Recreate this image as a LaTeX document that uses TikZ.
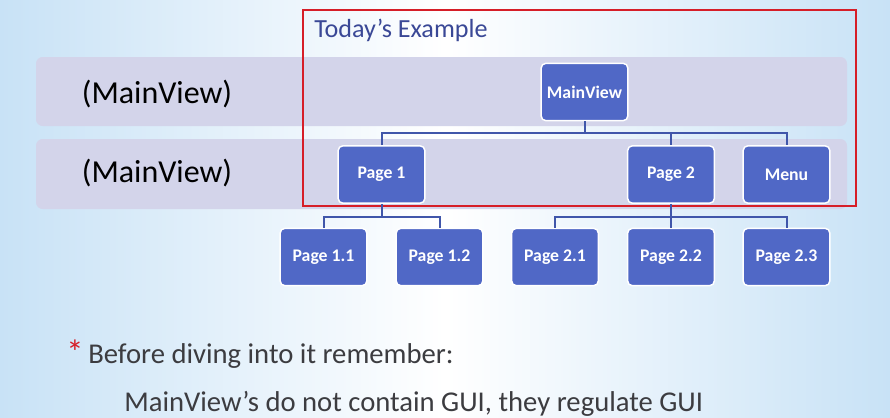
\documentclass[tikz,border=0pt]{standalone}
\usepackage{fontspec}
\setmainfont{Carlito}
\definecolor{bgblue}{RGB}{200,226,246}
\definecolor{bandcol}{RGB}{211,212,234}
\definecolor{boxblue}{RGB}{80,104,198}
\definecolor{linkblue}{RGB}{64,86,170}
\definecolor{titleblue}{RGB}{58,72,150}
\definecolor{framered}{RGB}{214,30,40}
\definecolor{bodygray}{RGB}{60,60,64}
\tikzset{
  pagebox/.style={draw=white, line width=1.1pt, fill=boxblue, rounded corners=3.5pt,
    minimum width=65pt, minimum height=43pt, text=white, inner sep=0pt,
    font=\fontsize{13.3}{15}\selectfont\bfseries},
  link/.style={draw=linkblue, line width=1.5pt},
  band/.style={fill=bandcol, rounded corners=5pt},
  bodytext/.style={anchor=base west, text=bodygray, font=\fontsize{21.5}{24}\selectfont, inner sep=0pt},
}
\begin{document}
\begin{tikzpicture}[x=0.75pt,y=0.75pt,yscale=-1,xscale=1]
\useasboundingbox (0,0) rectangle (890,418);

%Background
\shade[left color=bgblue, right color=bgblue, middle color=white] (0,0) rectangle (890,418);

%Bands
\fill[band] (36,57) rectangle (847,126);
\fill[band] (36,139) rectangle (847,209);

% Text Node
\node (lvla) at (157,94) {\fontsize{24}{28}\selectfont (MainView)};
% Text Node
\node (lvlb) at (157,173) {\fontsize{24}{28}\selectfont (MainView)};

%Frame
\draw[framered, line width=1.5pt] (303,10) rectangle (856,206);
% Text Node
\node[anchor=west, text=titleblue, font=\fontsize{19.6}{22}\selectfont, inner sep=0pt] (title) at (314,30) {Today’s Example};

%Boxes
\node[pagebox] (mv) at (584.5,92) {MainView};
\node[pagebox] (p1) at (381.5,174.5) {Page 1};
\node[pagebox] (p2) at (671,174.5) {Page 2};
\node[pagebox] (menu) at (786.5,174.5) {Menu};
\node[pagebox] (p11) at (323.5,257) {Page 1.1};
\node[pagebox] (p12) at (439.5,257) {Page 1.2};
\node[pagebox] (p21) at (555,257) {Page 2.1};
\node[pagebox] (p22) at (671,257) {Page 2.2};
\node[pagebox] (p23) at (786.5,257) {Page 2.3};

%Connectors
\coordinate (busa) at (584.5,133);
\coordinate (busb) at (381.5,217);
\coordinate (busc) at (671,217);
\draw[link] (mv.south) -- (busa);
\draw[link] (p1.north) |- (busa) -| (menu.north);
\draw[link] (busa -| p2.north) -- (p2.north);
\draw[link] (p1.south) -- (busb);
\draw[link] (p11.north) |- (busb) -| (p12.north);
\draw[link] (p2.south) -- (busc);
\draw[link] (p21.north) |- (busc) -| (p23.north);
\draw[link] (busc) -- (p22.north);

% Text Node
\node[anchor=base west, text=framered, font=\fontsize{26}{28}\selectfont, inner sep=0pt] (star) at (66,364) {*};
\node[bodytext] (line1) at (88,363) {Before diving into it remember:};
\node[bodytext] (line2) at (124,411) {MainView’s do not contain GUI, they regulate GUI};

\end{tikzpicture}
\end{document}
